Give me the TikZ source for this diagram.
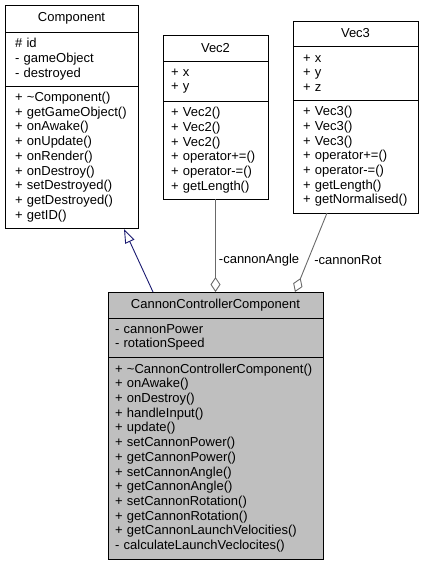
\documentclass[tikz,border=0pt]{standalone}
\usepackage{fontspec}
\setmainfont{Liberation Sans}
\usetikzlibrary{positioning,arrows.meta,calc}
\definecolor{ccgray}{RGB}{191,191,191}
\definecolor{usegray}{RGB}{105,105,105}
\definecolor{inhblue}{RGB}{25,25,112}
\newcommand{\umlfont}{\fontsize{13}{14.7}\selectfont}

\begin{document}
\begin{tikzpicture}[x=1pt,y=1pt,
  clspart/.style={draw,line width=0.9pt,inner sep=0pt,outer sep=0pt,align=left,font=\umlfont,fill=white},
  clsname/.style={clspart,align=center},
  boxsize/.style 2 args={minimum width=#1,text width=#2},
  current/.style={fill=ccgray},
  usage/.style={usegray,line width=0.9pt,-{Diamond[open,length=15pt,width=10pt]}},
  inherit/.style={inhblue,line width=0.9pt,-{Triangle[open,length=14pt,width=10pt]}},
  rolename/.style={font=\umlfont,text=black,inner sep=0pt,anchor=west}
]
\useasboundingbox (0,0) rectangle (424,-565);

% the class Component
\node[clsname,boxsize={133}{113},anchor=north west,minimum height=27] (cT) at (5,-5) {Component};
\node[clspart,boxsize={133}{113},below=0pt of cT,minimum height=54] (cA)
  {\#~id\\-~gameObject\\-~destroyed};
\node[clspart,boxsize={133}{113},below=0pt of cA,minimum height=142] (cM)
  {+~\textasciitilde Component()\\+~getGameObject()\\+~onAwake()\\+~onUpdate()\\+~onRender()\\+~onDestroy()\\+~setDestroyed()\\+~getDestroyed()\\+~getID()};

% the class Vec2
\node[clsname,boxsize={105}{89},anchor=north west,minimum height=26] (v2T) at (163,-35) {Vec2};
\node[clspart,boxsize={105}{89},below=0pt of v2T,minimum height=40] (v2A)
  {+~x\\+~y};
\node[clspart,boxsize={105}{89},below=0pt of v2A,minimum height=98] (v2M)
  {+~Vec2()\\+~Vec2()\\+~Vec2()\\+~operator+=()\\+~operator-=()\\+~getLength()};

% the class Vec3
\node[clsname,boxsize={125}{105},anchor=north west,minimum height=25] (v3T) at (293,-21) {Vec3};
\node[clspart,boxsize={125}{105},below=0pt of v3T,minimum height=54] (v3A)
  {+~x\\+~y\\+~z};
\node[clspart,boxsize={125}{105},below=0pt of v3A,minimum height=113] (v3M)
  {+~Vec3()\\+~Vec3()\\+~Vec3()\\+~operator+=()\\+~operator-=()\\+~getLength()\\+~getNormalised()};

% the class CannonControllerComponent
\node[clsname,current,boxsize={215}{201},anchor=north west,minimum height=26] (ccT) at (108,-292) {CannonControllerComponent};
\node[clspart,current,boxsize={215}{201},below=0pt of ccT,minimum height=39] (ccA)
  {-~cannonPower\\-~rotationSpeed};
\node[clspart,current,boxsize={215}{201},below=0pt of ccA,minimum height=202] (ccM)
  {+~\textasciitilde CannonControllerComponent()\\+~onAwake()\\+~onDestroy()\\+~handleInput()\\+~update()\\+~setCannonPower()\\+~getCannonPower()\\+~setCannonAngle()\\+~getCannonAngle()\\+~setCannonRotation()\\+~getCannonRotation()\\+~getCannonLaunchVelocities()\\-~calculateLaunchVeclocites()};

% the edges
\draw[inherit] ($(ccT.north west)+(45,0)$) -- ($(cM.south west)+(119,-1)$);
\draw[usage] (v2M.south) -- node[rolename,pos=0.66,xshift=3pt] {-cannonAngle} (v2M.south |- ccT.north);
\draw[usage] ($(v3M.south west)+(34,0)$) -- node[rolename,pos=0.6,xshift=6pt] {-cannonRot} ($(ccT.north west)+(187,0)$);
\end{tikzpicture}
\end{document}
